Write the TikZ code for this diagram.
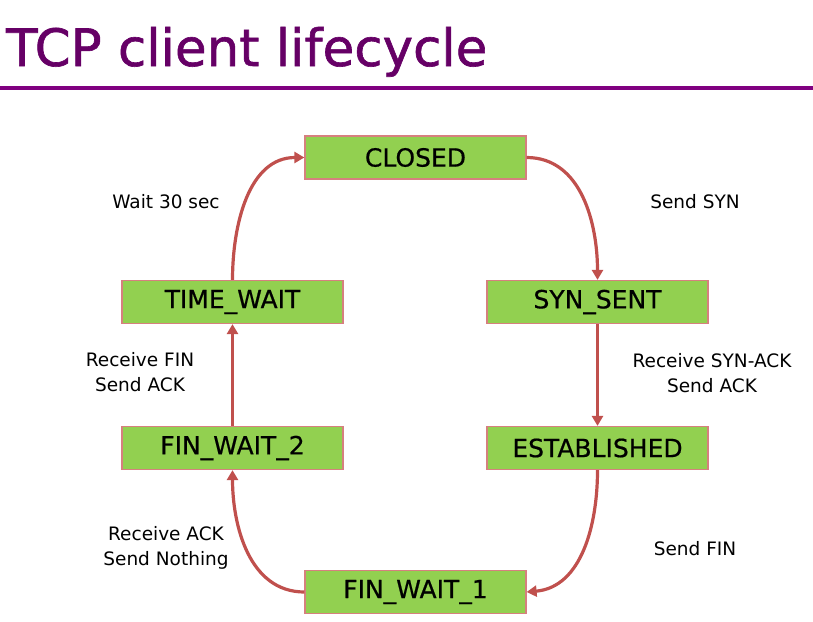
\documentclass[tikz,border=0pt]{standalone}
\usepackage{fontspec}
\setmainfont{DejaVu Sans}
\newfontfamily\headfont[FakeBold=1.2]{DejaVu Sans}
\newfontfamily\statefont[FakeBold=0.6]{DejaVu Sans}
\usetikzlibrary{arrows.meta}
\definecolor{titlepurple}{HTML}{660066}
\definecolor{rulepurple}{HTML}{800080}
\definecolor{stategreen}{HTML}{92D050}
\definecolor{stateedge}{HTML}{D6807E}
\definecolor{flowred}{HTML}{C0504D}
\begin{document}
\begin{tikzpicture}[x=1pt,y=-1pt,
  state/.style={draw=stateedge,line width=1.2pt,fill=stategreen,
    minimum width=221pt,minimum height=43pt,inner sep=0pt,
    font=\statefont\fontsize{25}{27}\selectfont},
  flow/.style={draw=flowred,line width=3.2pt,
    -{Triangle[length=10pt,width=11pt]}},
  note/.style={align=center,font=\fontsize{18.5}{25}\selectfont}]
  \useasboundingbox (0,0) rectangle (813,621);

  % heading and rule
  \node[anchor=base west,text=titlepurple,inner sep=0pt,
    font=\headfont\fontsize{51.5}{55}\selectfont] (title) at (6,66) {TCP client lifecycle};
  \draw[rulepurple,line width=4pt] (0,88) -- (813,88);

  % states
  \node[state] (closed) at (415.5,157.5) {CLOSED};
  \node[state] (synsent) at (597.5,302) {SYN\_SENT};
  \node[state] (est) at (597.5,448) {ESTABLISHED};
  \node[state] (fw1) at (415.5,592) {FIN\_WAIT\_1};
  \node[state] (fw2) at (232.5,448) {FIN\_WAIT\_2};
  \node[state] (tw) at (232.5,302) {TIME\_WAIT};

  % transitions
  \draw[flow] (closed.east) to[out=0,in=90] (synsent.north);
  \draw[flow] (synsent.south) -- (est.north);
  \draw[flow] (est.south) to[out=-90,in=5] (fw1.east);
  \draw[flow] (fw1.west) to[out=180,in=-90] (fw2.south);
  \draw[flow] (fw2.north) -- (tw.south);
  \draw[flow] (tw.north) to[out=90,in=180] (closed.west);

  % transition labels
  \node[note] (l1) at (695,202) {Send SYN};
  \node[note] (l2) at (712,373) {Receive SYN-ACK\\Send ACK};
  \node[note] (l3) at (695,549) {Send FIN};
  \node[note] (l4) at (166,548) {Receive ACK\\Send Nothing};
  \node[note] (l5) at (140,372) {Receive FIN\\Send ACK};
  \node[note] (l6) at (166,202) {Wait 30 sec};
\end{tikzpicture}
\end{document}
